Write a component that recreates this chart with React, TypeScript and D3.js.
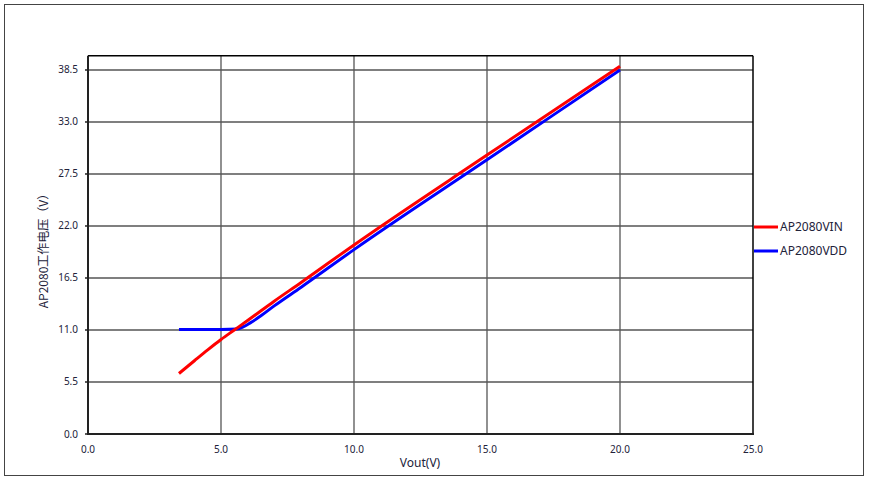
import React from "react";
import * as d3 from "d3";

const xTicks = [0, 5, 10, 15, 20, 25];
const yTicks = [0, 5.5, 11, 16.5, 22, 27.5, 33, 38.5];

const vinX = [3.42, 4.0, 4.5, 5.0, 5.5, 6.0, 7.0, 8.0, 10.0, 15.0, 20.0];
const vinY = [6.4, 7.75, 8.9, 10.0, 11.0, 12.0, 14.05, 16.0, 20.0, 29.5, 38.9];

const vddX = [3.42, 5.0, 5.6, 5.85, 6.1, 6.5, 7.0, 8.0, 10.0, 15.0, 20.0];
const vddY = [11.05, 11.05, 11.1, 11.35, 11.75, 12.5, 13.55, 15.5, 19.5, 29.0, 38.5];

const seriesNames = ["AP2080VIN", "AP2080VDD"];
const seriesColors = ["#ff0000", "#0000ff"];

export default function App() {
  const W = 870, H = 482;
  const x = d3.scaleLinear().domain([0, 25]).range([88, 753]);
  const y = d3.scaleLinear().domain([0, 40]).range([434, 55.8]);
  const line = d3.line<[number, number]>()
    .x((d) => x(d[0]))
    .y((d) => y(d[1]))
    .curve(d3.curveMonotoneX);
  const vin: [number, number][] = vinX.map((v, i) => [v, vinY[i]]);
  const vdd: [number, number][] = vddX.map((v, i) => [v, vddY[i]]);
  const font = "'Noto Sans', 'Open Sans', sans-serif";
  const textColor = "#22223a";
  return (
    <svg width={W} height={H} style={{ position: "absolute", left: 0, top: 0 }} fontFamily={font}>
      <rect x={0} y={0} width={W} height={H} fill="#fff" />
      <rect x={4.5} y={4.5} width={859} height={471} fill="none" stroke="#444" strokeWidth={1} />
      {yTicks.filter((t) => t > 0).map((t) => (
        <line key={"gy" + t} x1={x(0)} x2={x(25)} y1={y(t)} y2={y(t)} stroke="#555" strokeWidth={1.3} />
      ))}
      {xTicks.filter((t) => t > 0 && t < 25).map((t) => (
        <line key={"gx" + t} x1={x(t)} x2={x(t)} y1={y(40)} y2={y(0)} stroke="#555" strokeWidth={1.3} />
      ))}
      <line x1={x(0)} x2={x(25)} y1={y(40)} y2={y(40)} stroke="#000" strokeWidth={1.5} />
      <line x1={x(25)} x2={x(25)} y1={y(40)} y2={y(0)} stroke="#000" strokeWidth={1.5} />
      <line x1={x(0)} x2={x(0)} y1={y(40)} y2={y(0) + 1} stroke="#222" strokeWidth={2} />
      <line x1={x(0) - 1} x2={x(25) + 1} y1={y(0)} y2={y(0)} stroke="#222" strokeWidth={2} />
      {yTicks.map((t) => (
        <g key={"yt" + t}>
          <line x1={x(0) - 3} x2={x(0)} y1={y(t)} y2={y(t)} stroke="#222" strokeWidth={1.5} />
          <text x={78} y={y(t)} dy="0.35em" textAnchor="end" fontSize={10} fill={textColor}>
            {t.toFixed(1)}
          </text>
        </g>
      ))}
      {xTicks.map((t) => (
        <text key={"xt" + t} x={x(t)} y={449} dy="0.35em" textAnchor="middle" fontSize={10} fill={textColor}>
          {t.toFixed(1)}
        </text>
      ))}
      <text x={420} y={463} dy="0.35em" textAnchor="middle" fontSize={12} fill={textColor}>
        Vout(V)
      </text>
      <text
        transform={`translate(44,248) rotate(-90)`}
        textAnchor="middle"
        dy="0.35em"
        fontSize={12}
        fill={textColor}
        fontFamily="'Noto Sans CJK SC', 'Noto Sans', sans-serif"
      >
        AP2080工作电压（V）
      </text>
      <path d={line(vdd) || ""} fill="none" stroke={seriesColors[1]} strokeWidth={3} strokeLinejoin="round" />
      <path d={line(vin) || ""} fill="none" stroke={seriesColors[0]} strokeWidth={3} strokeLinejoin="round" />
      {seriesNames.map((n, i) => (
        <g key={n} transform={`translate(754, ${227 + i * 24})`}>
          <line x1={0} x2={24} y1={0} y2={0} stroke={seriesColors[i]} strokeWidth={3} />
          <text x={26} y={0} dy="0.35em" fontSize={12} fill={textColor}>
            {n}
          </text>
        </g>
      ))}
    </svg>
  );
}
